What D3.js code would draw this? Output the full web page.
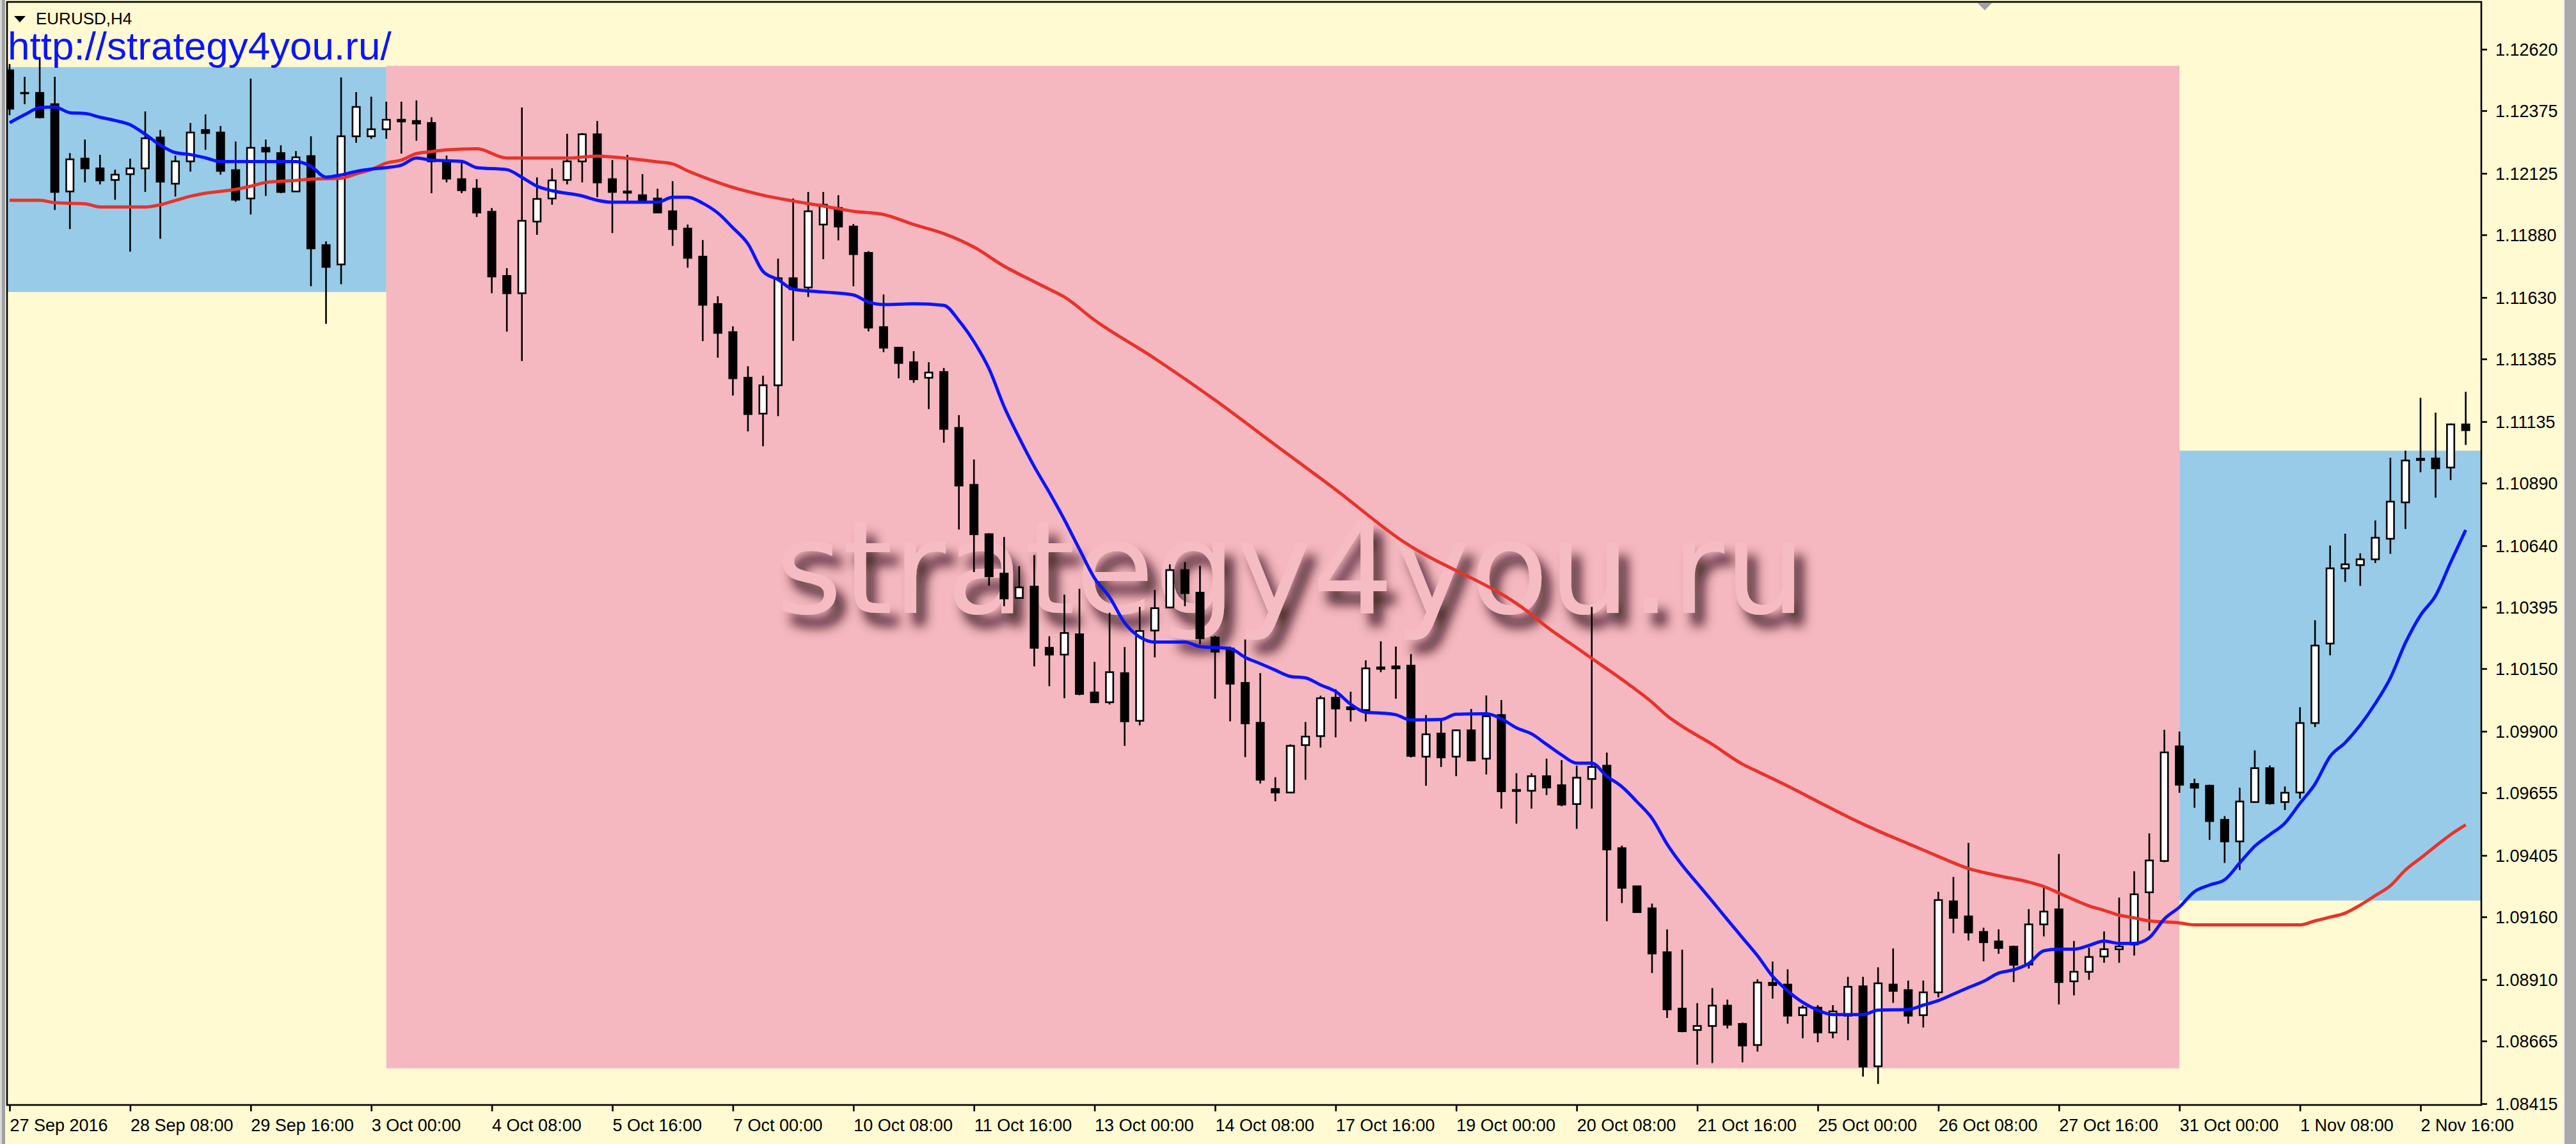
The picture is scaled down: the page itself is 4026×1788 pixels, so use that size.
<!DOCTYPE html>
<meta charset="utf-8">
<style>
html, body { margin: 0; padding: 0; background: #fffad2; }
svg { display: block; }
.axis text { font-family: "Liberation Sans", Arial, sans-serif; font-size: 27px; fill: #000; }
.axis path, .axis line { stroke: #000; stroke-width: 2.6px; }
</style>
<body>
<script src="https://d3js.org/d3.v7.min.js"></script>
<script>

const width = 4026
const height = 1788

// EURUSD H4 candles, bar 0 = 27 Sep 2016 00:00
const open = [1.12536,1.12446,1.12446,1.12401,1.12053,1.12184,1.12145,1.12099,1.12122,1.12145,
  1.12268,1.12084,1.12173,1.12298,1.12288,1.12138,1.12025,1.12227,1.12206,1.12053,
  1.12194,1.11839,1.11762,1.12273,1.12273,1.12301,1.12339,1.12334,1.12326,1.12172,
  1.12102,1.12064,1.11972,1.11716,1.11647,1.11933,1.12025,1.12099,1.12173,1.12281,
  1.12102,1.12053,1.12038,1.12025,1.11974,1.11905,1.11793,1.11604,1.11492,1.11310,
  1.11167,1.11280,1.11707,1.11670,1.11921,1.11987,1.11913,1.11808,1.11512,1.11430,
  1.11372,1.11310,1.11333,1.11110,1.10883,1.10686,1.10529,1.10432,1.10477,1.10233,
  1.10206,1.10287,1.10055,1.10016,1.10132,1.09942,1.10302,1.10394,1.10543,1.10453,
  1.10274,1.10230,1.10093,1.09934,1.09670,1.09656,1.09845,1.09881,1.10034,1.09996,
  1.09985,1.10155,1.10159,1.10162,1.09799,1.09891,1.09799,1.09904,1.09791,1.09965,
  1.09666,1.09663,1.09721,1.09685,1.09610,1.09710,1.09763,1.09434,1.09282,1.09194,
  1.09019,1.08794,1.08709,1.08725,1.08806,1.08733,1.08649,1.08897,1.08890,1.08768,
  1.08798,1.08699,1.08766,1.08883,1.08564,1.08890,1.08868,1.08768,1.08859,1.09222,
  1.09162,1.09100,1.09062,1.09041,1.08970,1.09130,1.09190,1.08903,1.08941,1.09002,
  1.09031,1.09050,1.09258,1.09383,1.09840,1.09690,1.09683,1.09547,1.09461,1.09618,
  1.09753,1.09618,1.09656,1.09933,1.10250,1.10550,1.10563,1.10586,1.10668,1.10813,
  1.10987,1.10988,1.10952,1.11124]
const high = [1.12561,1.12510,1.12587,1.12510,1.12206,1.12260,1.12199,1.12140,1.12184,1.12372,
  1.12298,1.12196,1.12326,1.12360,1.12314,1.12252,1.12503,1.12260,1.12237,1.12214,
  1.12273,1.11854,1.12508,1.12449,1.12431,1.12411,1.12411,1.12416,1.12349,1.12196,
  1.12173,1.12102,1.11987,1.11747,1.12388,1.12109,1.12145,1.12283,1.12286,1.12334,
  1.12178,1.12199,1.12122,1.12064,1.12094,1.11921,1.11859,1.11635,1.11515,1.11356,
  1.11318,1.11785,1.12025,1.12051,1.12051,1.12038,1.11923,1.11815,1.11642,1.11430,
  1.11416,1.11372,1.11349,1.11161,1.10984,1.10690,1.10675,1.10559,1.10603,1.10279,
  1.10445,1.10468,1.10177,1.10373,1.10236,1.10396,1.10464,1.10566,1.10575,1.10560,
  1.10281,1.10238,1.10266,1.10132,1.09717,1.09848,1.09937,1.10042,1.10068,1.10058,
  1.10183,1.10259,1.10238,1.10208,1.09965,1.09945,1.09906,1.09989,1.10043,1.10025,
  1.09733,1.09733,1.09791,1.09785,1.09763,1.10396,1.09815,1.09444,1.09282,1.09213,
  1.09110,1.09029,1.08816,1.08876,1.08830,1.08739,1.08911,1.08982,1.08951,1.08807,
  1.08808,1.08808,1.08921,1.08921,1.08959,1.09034,1.08906,1.08906,1.09260,1.09319,
  1.09455,1.09117,1.09110,1.09045,1.09191,1.09276,1.09411,1.09064,1.09038,1.09102,
  1.09237,1.09342,1.09493,1.09906,1.09899,1.09711,1.09687,1.09562,1.09675,1.09824,
  1.09764,1.09680,1.09996,1.10343,1.10641,1.10688,1.10610,1.10741,1.10991,1.11019,
  1.11230,1.11171,1.11128,1.11254]
const low = [1.12357,1.12401,1.12344,1.11979,1.11903,1.12089,1.12081,1.12020,1.11813,1.12051,
  1.11864,1.12033,1.12132,1.12219,1.12120,1.12012,1.11961,1.12035,1.12046,1.12051,
  1.11675,1.11525,1.11683,1.12247,1.12263,1.12263,1.12204,1.12255,1.12046,1.12089,
  1.12046,1.11951,1.11647,1.11494,1.11377,1.11880,1.12000,1.12081,1.12089,1.12030,
  1.11887,1.12015,1.12010,1.11967,1.11836,1.11749,1.11456,1.11390,1.11239,1.11096,
  1.11037,1.11157,1.11457,1.11632,1.11783,1.11858,1.11675,1.11495,1.11412,1.11308,
  1.11290,1.11185,1.11051,1.10705,1.10535,1.10481,1.10399,1.10430,1.10159,1.10080,
  1.10032,1.10044,1.10013,1.10007,1.09842,1.09924,1.10195,1.10391,1.10399,1.10247,
  1.10030,1.09940,1.09797,1.09692,1.09621,1.09654,1.09707,1.09835,1.09876,1.09939,
  1.09939,1.10136,1.10030,1.09796,1.09683,1.09758,1.09721,1.09781,1.09728,1.09592,
  1.09532,1.09592,1.09646,1.09601,1.09511,1.09592,1.09143,1.09215,1.09179,1.08936,
  1.08757,1.08700,1.08571,1.08577,1.08715,1.08580,1.08623,1.08834,1.08734,1.08676,
  1.08660,1.08676,1.08668,1.08523,1.08494,1.08817,1.08734,1.08719,1.08839,1.09095,
  1.09066,1.08983,1.09013,1.08900,1.08954,1.09082,1.08811,1.08847,1.08909,1.08977,
  1.08977,1.09006,1.09105,1.09378,1.09655,1.09595,1.09467,1.09375,1.09347,1.09616,
  1.09608,1.09586,1.09631,1.09917,1.10203,1.10496,1.10480,1.10571,1.10608,1.10707,
  1.10933,1.10832,1.10902,1.11042]
const close = [1.12383,1.12444,1.12349,1.12051,1.12181,1.12145,1.12097,1.12120,1.12145,1.12265,
  1.12092,1.12173,1.12288,1.12286,1.12135,1.12020,1.12227,1.12212,1.12051,1.12189,
  1.11826,1.11752,1.12273,1.12390,1.12301,1.12339,1.12332,1.12324,1.12173,1.12104,
  1.12058,1.11969,1.11714,1.11647,1.11936,1.12023,1.12097,1.12173,1.12281,1.12089,
  1.12051,1.12048,1.12015,1.11969,1.11903,1.11788,1.11601,1.11489,1.11308,1.11165,
  1.11280,1.11707,1.11663,1.11974,1.12000,1.11913,1.11803,1.11510,1.11430,1.11369,
  1.11304,1.11331,1.11106,1.10880,1.10686,1.10518,1.10430,1.10474,1.10233,1.10206,
  1.10292,1.10049,1.10016,1.10136,1.09940,1.10300,1.10391,1.10543,1.10451,1.10271,
  1.10218,1.10090,1.09932,1.09707,1.09656,1.09842,1.09879,1.10032,1.09991,1.09988,
  1.10151,1.10149,1.10151,1.09802,1.09888,1.09796,1.09904,1.09784,1.09960,1.09661,
  1.09662,1.09721,1.09676,1.09608,1.09715,1.09758,1.09429,1.09276,1.09179,1.09014,
  1.08791,1.08704,1.08725,1.08806,1.08730,1.08647,1.08898,1.08888,1.08766,1.08798,
  1.08699,1.08783,1.08881,1.08563,1.08895,1.08865,1.08766,1.08859,1.09227,1.09156,
  1.09098,1.09059,1.09036,1.08969,1.09130,1.09181,1.08900,1.08941,1.09000,1.09031,
  1.09042,1.09250,1.09385,1.09816,1.09687,1.09675,1.09542,1.09461,1.09620,1.09753,
  1.09613,1.09655,1.09933,1.10242,1.10550,1.10566,1.10586,1.10672,1.10816,1.10980,
  1.10982,1.10949,1.11124,1.11101]

// moving averages: [bar, price]
const maFast = [[0,1.12327],[1,1.12359],[2,1.12387],[3,1.12390],[4,1.12367],[5,1.12364],[6,1.12349],
  [7,1.12336],[8,1.12319],[9,1.12281],[10,1.12238],[11,1.12208],[12,1.12200],[13,1.12187],[14,1.12172],
  [19,1.12172],[20,1.12153],[21,1.12110],[22,1.12119],[23,1.12133],[24,1.12142],[25,1.12148],[26,1.12158],
  [27,1.12186],[28,1.12178],[30,1.12173],[31,1.12148],[33,1.12140],[34,1.12109],[35,1.12074],[36,1.12056],
  [38,1.12035],[39,1.12018],[40,1.12010],[43,1.12010],[44,1.12030],[45,1.12030],[46,1.12006],[47,1.11967],
  [48,1.11908],[49,1.11844],[50,1.11734],[51,1.11701],[52,1.11663],[54,1.11652],[56,1.11640],[57,1.11612],
  [58,1.11602],[60,1.11605],[62,1.11599],[63,1.11538],[64,1.11454],[65,1.11346],[66,1.11195],[67,1.11071],
  [68,1.10956],[69,1.10853],[70,1.10744],[71,1.10626],[72,1.10511],[73,1.10435],[74,1.10333],[75,1.10276],
  [76,1.10256],[78,1.10256],[79,1.10238],[81,1.10230],[82,1.10195],[83,1.10170],[84,1.10144],[85,1.10119],
  [86,1.10113],[87,1.10085],[88,1.10059],[89,1.10008],[90,1.09976],[91,1.09973],[92,1.09966],[93,1.09945],
  [95,1.09947],[96,1.09968],[98,1.09970],[99,1.09950],[100,1.09914],[101,1.09890],[102,1.09848],[103,1.09806],
  [104,1.09773],[105,1.09773],[106,1.09721],[107,1.09679],[108,1.09619],[109,1.09553],[110,1.09450],
  [111,1.09366],[112,1.09294],[113,1.09222],[114,1.09149],[115,1.09077],[116,1.09005],[117,1.08923],
  [118,1.08865],[119,1.08819],[120,1.08788],[121,1.08770],[123,1.08770],[124,1.08788],[126,1.08791],
  [127,1.08808],[128,1.08826],[129,1.08852],[130,1.08878],[131,1.08903],[132,1.08936],[133,1.08949],
  [134,1.08974],[135,1.09025],[136,1.09031],[137,1.09031],[138,1.09046],[139,1.09064],[140,1.09054],
  [141,1.09054],[142,1.09077],[143,1.09152],[144,1.09199],[145,1.09261],[146,1.09287],[147,1.09308],
  [148,1.09375],[149,1.09442],[150,1.09488],[151,1.09534],[152,1.09613],[153,1.09690],[154,1.09800],
  [155,1.09855],[156,1.09925],[157,1.10011],[158,1.10113],[159,1.10253],[160,1.10363],[161,1.10441],
  [162,1.10574],[163,1.10703]]
const maSlow = [[0,1.12018],[2,1.12018],[3,1.12008],[5,1.12004],[6,1.11991],[9,1.11991],[10,1.12000],
  [11,1.12017],[12,1.12034],[13,1.12046],[15,1.12061],[16,1.12074],[17,1.12089],[19,1.12097],[20,1.12102],
  [22,1.12106],[23,1.12123],[24,1.12140],[25,1.12166],[26,1.12178],[27,1.12204],[28,1.12212],[29,1.12219],
  [31,1.12223],[33,1.12186],[37,1.12186],[39,1.12194],[41,1.12185],[43,1.12171],[44,1.12163],[45,1.12135],
  [47,1.12089],[48,1.12069],[50,1.12038],[52,1.12015],[54,1.11995],[56,1.11974],[58,1.11961],[60,1.11921],
  [62,1.11885],[64,1.11831],[66,1.11755],[68,1.11693],[69,1.11663],[70,1.11632],[72,1.11540],[76,1.11387],
  [80,1.11221],[84,1.11042],[88,1.10864],[92,1.10677],[101,1.10366],[102,1.10317],[104,1.10233],
  [105,1.10191],[107,1.10107],[109,1.10016],[110,1.09962],[111,1.09920],[113,1.09848],[115,1.09769],
  [116,1.09740],[118,1.09682],[120,1.09620],[122,1.09559],[124,1.09503],[126,1.09452],[128,1.09401],
  [130,1.09353],[132,1.09324],[134,1.09299],[135,1.09281],[136,1.09255],[138,1.09204],[139,1.09186],
  [140,1.09167],[141,1.09156],[142,1.09144],[143,1.09140],[144,1.09136],[145,1.09128],[152,1.09128],
  [153,1.09144],[154,1.09159],[155,1.09175],[156,1.09207],[157,1.09245],[158,1.09284],[159,1.09347],
  [160,1.09394],[161,1.09442],[162,1.09488],[163,1.09527]]

// rectangles drawn on the chart: bar span and price span
const zoneFrom = [-2, 25, 144]
const zoneTo = [25, 144, 170]
const zoneTop = [1.12549, 1.12554, 1.11019]
const zoneBottom = [1.11652, 1.08556, 1.09225]

const priceTicks = [1.12620, 1.12375, 1.12125, 1.11880, 1.11630, 1.11385, 1.11135, 1.10890, 1.10640,
  1.10395, 1.10150, 1.09900, 1.09655, 1.09405, 1.09160, 1.08910, 1.08665, 1.08415]
const timeLabels = ['27 Sep 2016', '28 Sep 08:00', '29 Sep 16:00', '3 Oct 00:00', '4 Oct 08:00',
  '5 Oct 16:00', '7 Oct 00:00', '10 Oct 08:00', '11 Oct 16:00', '13 Oct 00:00', '14 Oct 08:00',
  '17 Oct 16:00', '19 Oct 00:00', '20 Oct 08:00', '21 Oct 16:00', '25 Oct 00:00', '26 Oct 08:00',
  '27 Oct 16:00', '31 Oct 00:00', '1 Nov 08:00', '2 Nov 16:00']
const barsPerLabel = 8

// plot frame
const plotLeft = 11, plotRight = 3878, plotTop = 3, plotBottom = 1727

const x = d3.scaleLinear().domain([0, 160]).range([15, 3783])
const y = d3.scaleLinear().domain([1.08415, 1.12620]).range([1725, 77])

const svg = d3.select('body').append('svg')
  .attr('width', width)
  .attr('height', height)

const defs = svg.append('defs')
defs.append('clipPath').attr('id', 'plot')
  .append('rect').attr('x', plotLeft).attr('y', plotTop)
  .attr('width', plotRight - plotLeft).attr('height', plotBottom - plotTop)

const shadow = defs.append('filter').attr('id', 'shadow')
  .attr('x', '-5%').attr('y', '-30%').attr('width', '115%').attr('height', '170%')
shadow.append('feGaussianBlur').attr('in', 'SourceAlpha').attr('stdDeviation', 9)
shadow.append('feOffset').attr('dx', 14).attr('dy', 20).attr('result', 'blur')
shadow.append('feFlood').attr('flood-color', '#2a0c12').attr('flood-opacity', 0.85)
shadow.append('feComposite').attr('in2', 'blur').attr('operator', 'in')
const merge = shadow.append('feMerge')
merge.append('feMergeNode')
merge.append('feMergeNode').attr('in', 'SourceGraphic')

// window edges
svg.append('rect').attr('x', 0).attr('y', 0).attr('width', width).attr('height', height).attr('fill', '#fffad2')
svg.append('rect').attr('x', 0).attr('y', 0).attr('width', 8).attr('height', height).attr('fill', '#a0a0a0')
svg.append('rect').attr('x', 0).attr('y', 0).attr('width', 3).attr('height', height).attr('fill', '#d8d8d8')
svg.append('rect').attr('x', 4005).attr('y', 0).attr('width', 3).attr('height', height).attr('fill', '#f4f4f4')
svg.append('rect').attr('x', 4008).attr('y', 0).attr('width', 18).attr('height', height).attr('fill', '#a9a9a9')

const plot = svg.append('g').attr('clip-path', 'url(#plot)')

const zoneColors = ['#98cbe8', '#f5b7c0', '#98cbe8']
plot.selectAll('rect.zone')
  .data(d3.range(zoneFrom.length))
  .enter()
  .append('rect')
  .attr('class', 'zone')
  .attr('x', i => x(zoneFrom[i]))
  .attr('width', i => x(zoneTo[i]) - x(zoneFrom[i]))
  .attr('y', i => y(zoneTop[i]))
  .attr('height', i => y(zoneBottom[i]) - y(zoneTop[i]))
  .attr('fill', i => zoneColors[i])

// watermark
plot.append('text')
  .text('strategy4you.ru')
  .attr('x', 1212)
  .attr('y', 958)
  .attr('textLength', 1610)
  .attr('lengthAdjust', 'spacing')
  .attr('font-family', 'DejaVu Sans, Verdana, sans-serif')
  .attr('font-size', 200)
  .attr('fill', '#f6bcc4')
  .attr('filter', 'url(#shadow)')

// candles
const bars = d3.range(open.length).map(i => ({ i, o: open[i], h: high[i], l: low[i], c: close[i] }))
const bodyW = 11.4

const candle = plot.selectAll('g.candle')
  .data(bars)
  .enter()
  .append('g')
  .attr('class', 'candle')

candle.append('line')
  .attr('x1', d => x(d.i))
  .attr('x2', d => x(d.i))
  .attr('y1', d => y(d.h))
  .attr('y2', d => y(d.l))
  .attr('stroke', '#000')
  .attr('stroke-width', 2.6)

candle.append('rect')
  .attr('x', d => x(d.i) - bodyW / 2)
  .attr('width', bodyW)
  .attr('y', d => y(Math.max(d.o, d.c)))
  .attr('height', d => Math.max(Math.abs(y(d.o) - y(d.c)), 0.6))
  .attr('fill', d => d.c >= d.o ? '#fff' : '#000')
  .attr('stroke', '#000')
  .attr('stroke-width', 2.6)

// moving averages
const line = d3.line()
  .x(d => x(d[0]))
  .y(d => y(d[1]))
  .curve(d3.curveMonotoneX)

plot.append('path')
  .datum(maSlow)
  .attr('d', line)
  .attr('fill', 'none')
  .attr('stroke', '#e8332a')
  .attr('stroke-width', 5)

plot.append('path')
  .datum(maFast)
  .attr('d', line)
  .attr('fill', 'none')
  .attr('stroke', '#0a14ff')
  .attr('stroke-width', 5)

// frame
svg.append('rect')
  .attr('x', plotLeft).attr('y', plotTop)
  .attr('width', plotRight - plotLeft).attr('height', plotBottom - plotTop)
  .attr('fill', 'none')
  .attr('stroke', '#000')
  .attr('stroke-width', 2.6)

// price axis
const yAxis = svg.append('g')
  .attr('class', 'axis')
  .attr('transform', `translate(${plotRight},0)`)
  .call(d3.axisRight(y).tickValues(priceTicks).tickFormat(d3.format('.5f')).tickSize(9).tickSizeOuter(0))
yAxis.select('.domain').remove()
yAxis.selectAll('text').attr('x', 22).attr('dy', '0.36em')

// time axis
const xAxis = svg.append('g')
  .attr('class', 'axis')
  .attr('transform', `translate(0,${plotBottom})`)
  .call(d3.axisBottom(x)
    .tickValues(timeLabels.map((_, k) => k * barsPerLabel))
    .tickFormat((_, k) => timeLabels[k])
    .tickSize(10)
    .tickSizeOuter(0))
xAxis.select('.domain').remove()
xAxis.selectAll('text').attr('text-anchor', 'start').attr('x', 0).attr('y', 22).attr('dy', '0.71em')

// chart title and link
svg.append('path')
  .attr('d', 'M22,25 L40,25 L31,35 Z')
  .attr('fill', '#000')
svg.append('text')
  .text('EURUSD,H4')
  .attr('x', 56)
  .attr('y', 38)
  .attr('font-family', 'Liberation Sans, Arial, sans-serif')
  .attr('font-size', 26)
  .attr('fill', '#000')
svg.append('text')
  .text('http://strategy4you.ru/')
  .attr('x', 12)
  .attr('y', 93)
  .attr('font-family', 'Liberation Sans, Arial, sans-serif')
  .attr('font-size', 62)
  .attr('fill', '#0a14ff')

// chart shift marker
svg.append('path')
  .attr('d', 'M3090,4 L3114,4 L3102,16 Z')
  .attr('fill', '#a0a0a0')

</script>
</body>
</html>
